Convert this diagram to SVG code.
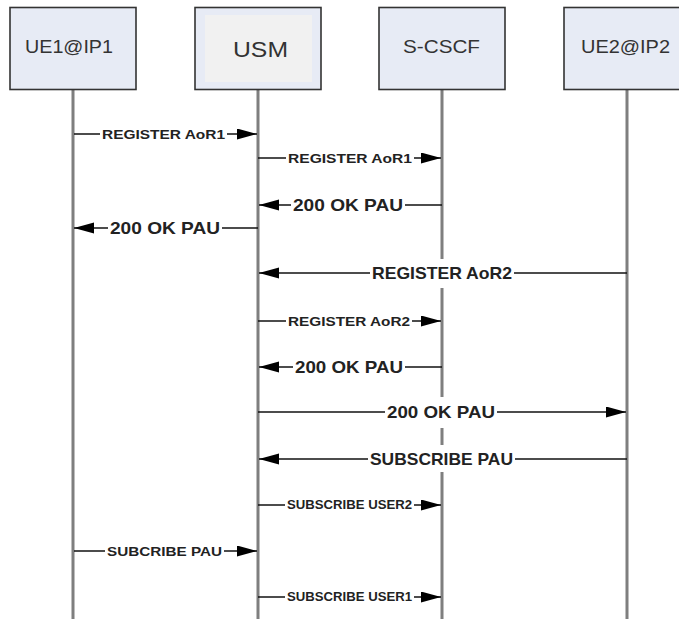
<svg xmlns="http://www.w3.org/2000/svg" width="679" height="619" viewBox="0 0 679 619">
<style>
.box{fill:#e7ebf5;stroke:#333;stroke-width:1.6}
.inner{fill:#f1f1f1;stroke:none}
.life{stroke:#7f7f7f;stroke-width:3}
.name{font-family:"Liberation Sans",Arial,sans-serif;fill:#333;text-anchor:start}
.msg{stroke:#111;stroke-width:1.5;fill:none;marker-end:url(#ah)}
.bg{fill:#fff}
.lbl{font-family:"Liberation Sans",Arial,sans-serif;font-weight:bold;fill:#222}
.s{font-size:13px}
.l{font-size:17px}
.xs{font-size:12px}
</style>
<defs>
<marker id="ah" markerUnits="userSpaceOnUse" markerWidth="22" markerHeight="12" refX="20" refY="5.5" orient="auto">
<path d="M0,0 L20,5.5 L0,11 z" fill="#000"/>
</marker>
</defs>
<rect width="679" height="619" fill="#fff"/>
<g id="UE1">
<line class="life" x1="73" y1="89" x2="73" y2="619"/>
<rect class="box" x="10" y="7.5" width="126" height="82"/>
<text class="name" x="25" y="53" font-size="18" textLength="88" lengthAdjust="spacingAndGlyphs">UE1@IP1</text>
</g>
<g id="USM">
<line class="life" x1="258" y1="89" x2="258" y2="619"/>
<rect class="box" x="195" y="7.5" width="126" height="82"/>
<rect class="inner" x="205" y="15" width="107" height="67"/>
<text class="name" x="233" y="57" font-size="22" textLength="55" lengthAdjust="spacingAndGlyphs">USM</text>
</g>
<g id="SCSCF">
<line class="life" x1="442" y1="89" x2="442" y2="619"/>
<rect class="box" x="379" y="7.5" width="126" height="82"/>
<text class="name" x="403" y="53" font-size="18" textLength="77" lengthAdjust="spacingAndGlyphs">S-CSCF</text>
</g>
<g id="UE2">
<line class="life" x1="627" y1="89" x2="627" y2="619"/>
<rect class="box" x="564" y="7.5" width="126" height="82"/>
<text class="name" x="581" y="53" font-size="18" textLength="89" lengthAdjust="spacingAndGlyphs">UE2@IP2</text>
</g>
<g id="connectors">
<line class="msg" x1="74" y1="134" x2="257" y2="134"/>
<rect class="bg" x="100" y="126" width="127" height="16"/>
<text class="lbl s" x="102" y="138.7" textLength="123" lengthAdjust="spacingAndGlyphs">REGISTER AoR1</text>

<line class="msg" x1="258" y1="158" x2="441" y2="158"/>
<rect class="bg" x="286" y="150" width="128" height="16"/>
<text class="lbl s" x="288" y="162.7" textLength="124" lengthAdjust="spacingAndGlyphs">REGISTER AoR1</text>

<line class="msg" x1="442" y1="205" x2="259" y2="205"/>
<rect class="bg" x="291" y="194" width="114" height="22"/>
<text class="lbl l" x="293" y="211" textLength="110" lengthAdjust="spacingAndGlyphs">200 OK PAU</text>

<line class="msg" x1="258" y1="228" x2="74" y2="228"/>
<rect class="bg" x="108" y="217" width="114" height="22"/>
<text class="lbl l" x="110" y="234" textLength="110" lengthAdjust="spacingAndGlyphs">200 OK PAU</text>

<line class="msg" x1="627" y1="273" x2="259" y2="273"/>
<rect class="bg" x="370" y="259" width="144" height="29"/>
<text class="lbl l" x="372" y="279" textLength="140" lengthAdjust="spacingAndGlyphs">REGISTER AoR2</text>

<line class="msg" x1="258" y1="321" x2="441" y2="321"/>
<rect class="bg" x="286" y="313" width="126" height="16"/>
<text class="lbl s" x="288" y="325.7" textLength="122" lengthAdjust="spacingAndGlyphs">REGISTER AoR2</text>

<line class="msg" x1="442" y1="367" x2="259" y2="367"/>
<rect class="bg" x="293" y="356" width="112" height="22"/>
<text class="lbl l" x="295" y="373" textLength="108" lengthAdjust="spacingAndGlyphs">200 OK PAU</text>

<line class="msg" x1="258" y1="412" x2="626" y2="412"/>
<rect class="bg" x="385" y="397" width="112" height="31"/>
<text class="lbl l" x="387" y="418" textLength="108" lengthAdjust="spacingAndGlyphs">200 OK PAU</text>

<line class="msg" x1="627" y1="459" x2="259" y2="459"/>
<rect class="bg" x="368" y="445" width="147" height="27"/>
<text class="lbl l" x="370" y="465" textLength="143" lengthAdjust="spacingAndGlyphs">SUBSCRIBE PAU</text>

<line class="msg" x1="258" y1="505" x2="441" y2="505"/>
<rect class="bg" x="285" y="497" width="129" height="16"/>
<text class="lbl xs" x="287" y="509.3" textLength="125" lengthAdjust="spacingAndGlyphs">SUBSCRIBE USER2</text>

<line class="msg" x1="74" y1="551" x2="257" y2="551"/>
<rect class="bg" x="105" y="543" width="119" height="16"/>
<text class="lbl s" x="107" y="555.7" textLength="115" lengthAdjust="spacingAndGlyphs">SUBCRIBE PAU</text>

<line class="msg" x1="258" y1="597" x2="441" y2="597"/>
<rect class="bg" x="285" y="589" width="129" height="16"/>
<text class="lbl xs" x="287" y="601.3" textLength="125" lengthAdjust="spacingAndGlyphs">SUBSCRIBE USER1</text>
</g>
</svg>
